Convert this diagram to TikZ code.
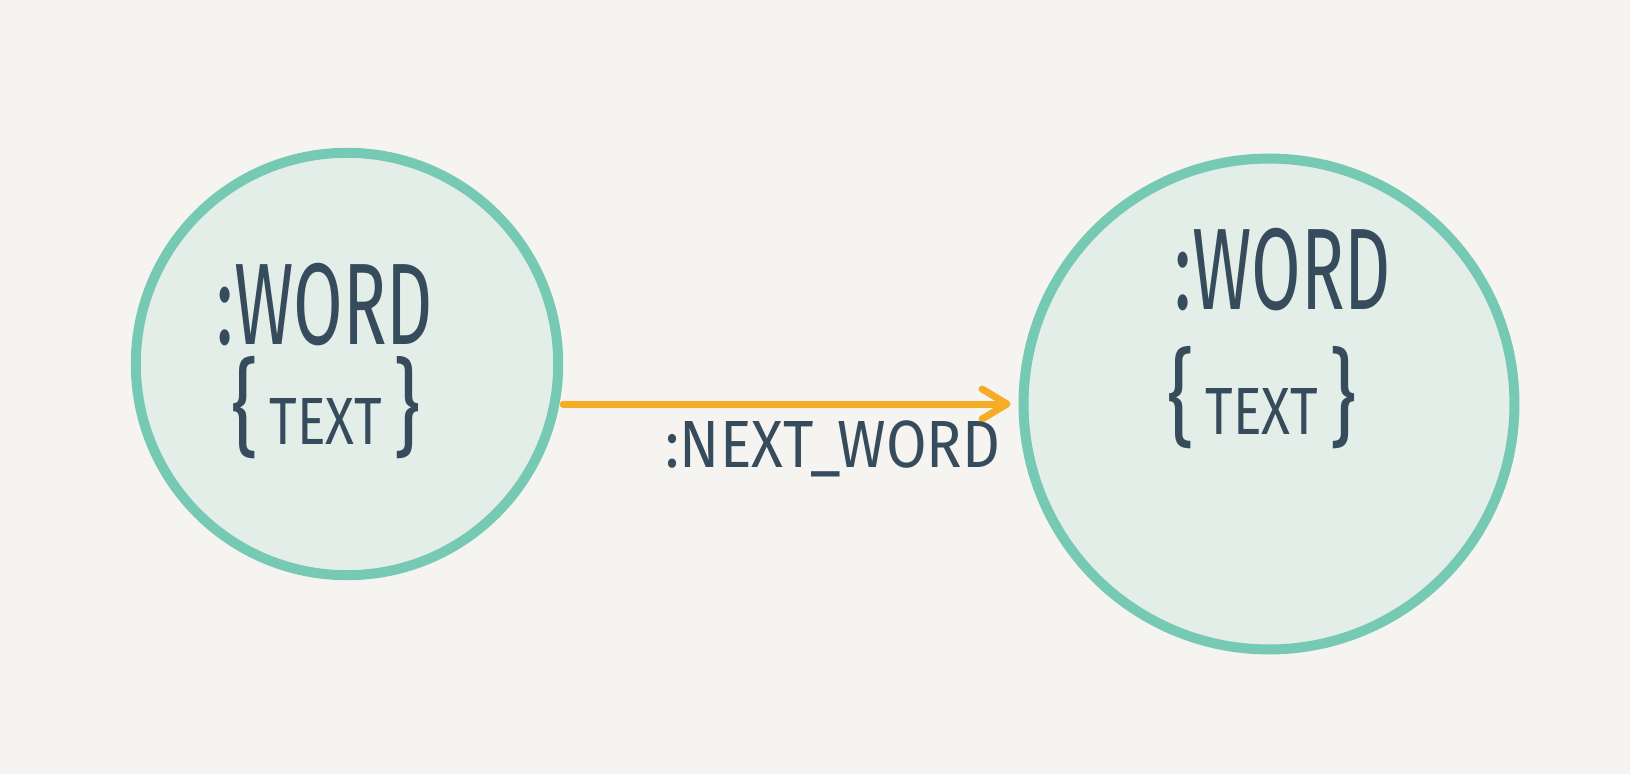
\documentclass[tikz,border=0pt]{standalone}
\usepackage{fontspec}
\newfontfamily\handfont[FakeStretch=0.62]{Fira Sans}
\newfontfamily\propfont[FakeStretch=0.8]{Fira Sans}
\newfontfamily\relfont[FakeStretch=0.88]{Fira Sans}
\newcommand{\bigbrace}[1]{{\fontsize{60}{60}\selectfont #1}}
\usetikzlibrary{arrows.meta}
\definecolor{paper}{HTML}{F5F4F0}
\definecolor{nodefill}{HTML}{E3EEE8}
\definecolor{noderim}{HTML}{76C9B2}
\definecolor{ink}{HTML}{364B5C}
\definecolor{relcol}{HTML}{F5AD27}
\begin{document}
\begin{tikzpicture}[x=0.02cm, y=-0.02cm,
    wordnode/.style={circle, draw=noderim, fill=nodefill, line width=0.2cm, inner sep=0pt},
    wordlbl/.style={text=ink, inner sep=0pt, font=\handfont\fontsize{66}{70}\selectfont},
    proplbl/.style={text=ink, inner sep=0pt, font=\propfont\fontsize{38}{42}\selectfont},
    rellbl/.style={text=ink, inner sep=0pt, font=\relfont\fontsize{38}{42}\selectfont},
    rel/.style={draw=relcol, line width=0.14cm, line cap=round,
      -{Straight Barb[length=0.5cm, width=0.6cm, line cap=round, line join=round]}}]
  \fill[paper] (0,0) rectangle (1630,774);
  \useasboundingbox (0,0) rectangle (1630,774);
  % the two word nodes
  \node[wordnode, minimum size=8.45cm] (word1) at (347,364)  {};
  \node[wordnode, minimum size=9.82cm] (word2) at (1269,404) {};
  \node[wordlbl]  (word1lbl)  at (325,305)  {:WORD};
  \node[proplbl]  (word1prop) at (326,408)  {\bigbrace{\{}\,TEXT\,\bigbrace{\}}};
  \node[wordlbl]  (word2lbl)  at (1283,270) {:WORD};
  \node[proplbl]  (word2prop) at (1262,398) {\bigbrace{\{}\,TEXT\,\bigbrace{\}}};
  % relationship
  \draw[rel, shorten >=0.16cm] (word1.east |- word2.west) -- (word2.west);
  \node[rellbl, anchor=north] (nextlbl) at (833,420) {:NEXT\_WORD};
\end{tikzpicture}
\end{document}
